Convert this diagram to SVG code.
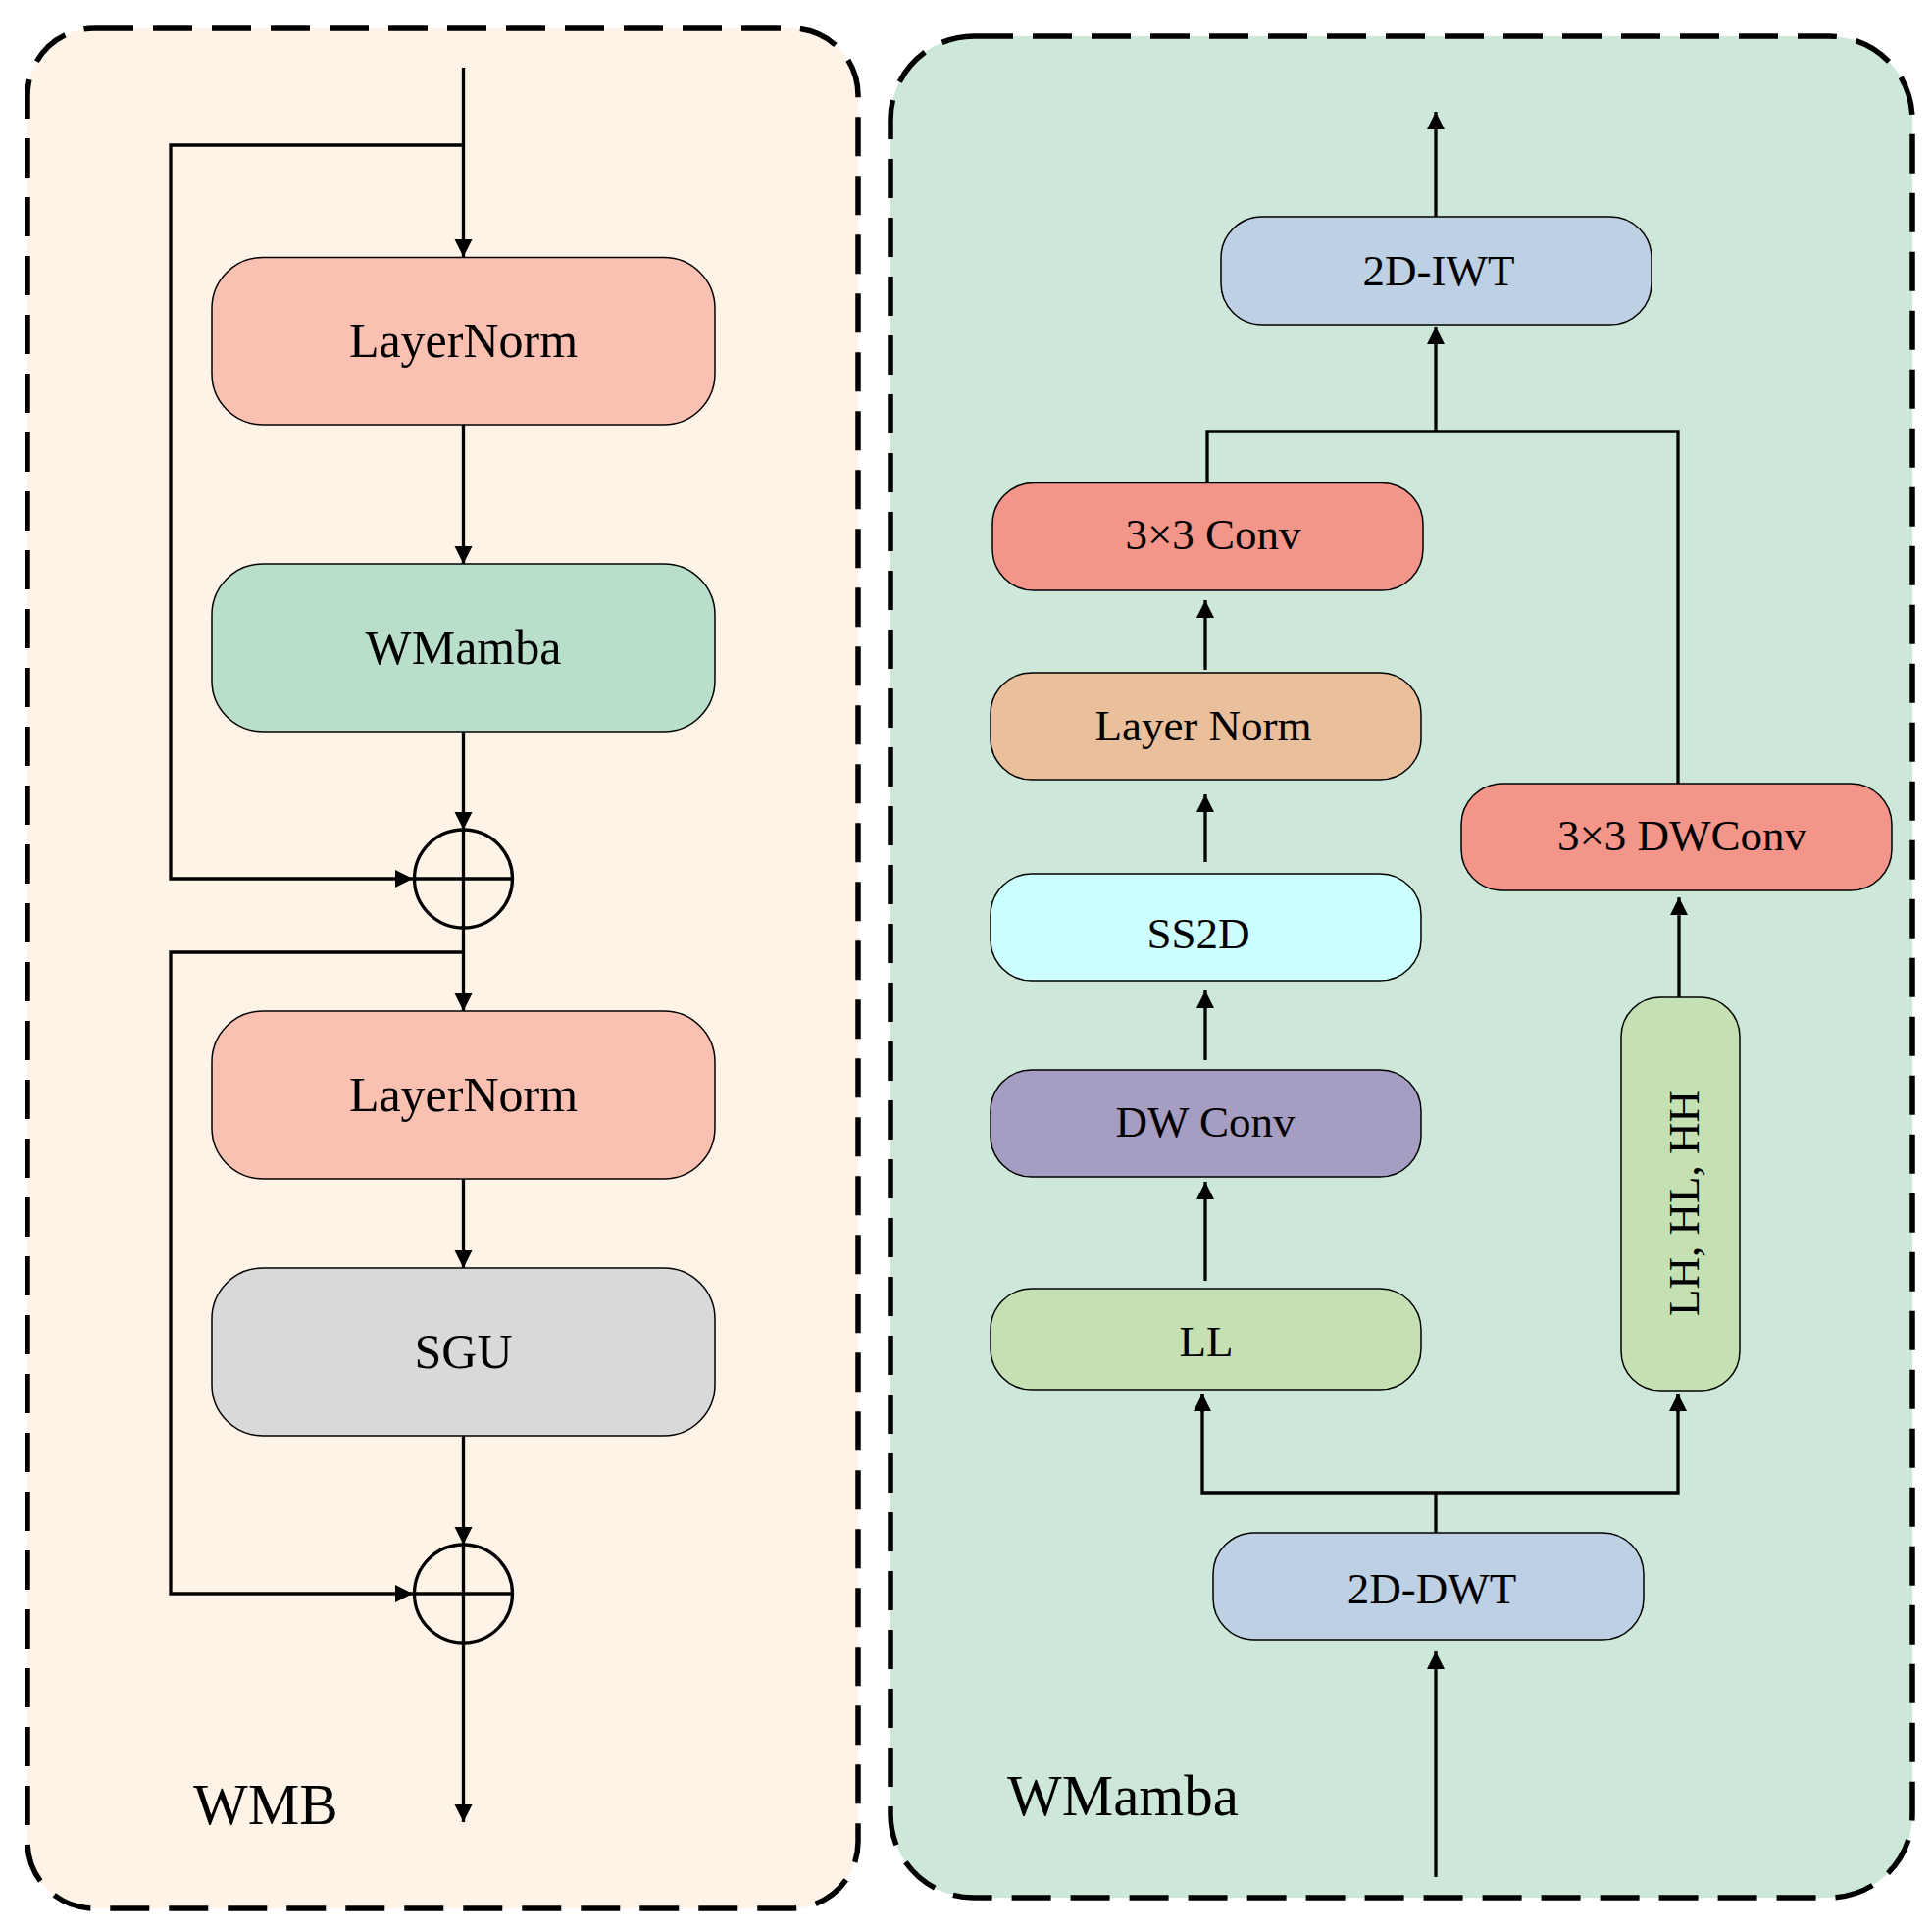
<svg xmlns="http://www.w3.org/2000/svg" width="1970" height="1967" viewBox="0 0 1970 1967">
<defs>
<style>
.panel{stroke:#000;stroke-width:5.5;stroke-dasharray:40 20}
.box{stroke:#000;stroke-width:1.5}
.ln{fill:none;stroke:#000;stroke-width:3.3}
.t50{font-family:"Liberation Serif","Times New Roman",serif;font-size:50px;fill:#000;text-anchor:middle}
.t45{font-family:"Liberation Serif","Times New Roman",serif;font-size:45px;fill:#000;text-anchor:middle}
.lbl{font-family:"Liberation Serif","Times New Roman",serif;font-size:59px;fill:#000}
</style>
<marker id="ah" markerUnits="userSpaceOnUse" markerWidth="20" markerHeight="20" viewBox="0 0 20 20" refX="18" refY="10" orient="auto">
<path d="M0,1 L18,10 L0,19 Z" fill="#000"/>
</marker>
</defs>

<g id="panel-wmb">
<rect class="panel" x="28" y="29" width="847" height="1917" rx="68" ry="68" fill="#FEF3E7"/>
<text class="lbl" x="197" y="1860">WMB</text>
</g>
<g id="panel-wmamba">
<rect class="panel" x="908" y="37" width="1042" height="1898" rx="85" ry="85" fill="#CDE7D9"/>
<text class="lbl" x="1027" y="1851">WMamba</text>
</g>

<g id="connectors">
<!-- left panel -->
<line class="ln" x1="472.5" y1="69" x2="472.5" y2="262" marker-end="url(#ah)"/>
<polyline class="ln" points="472.5,148 174,148 174,896 421,896" marker-end="url(#ah)"/>
<line class="ln" x1="472.5" y1="433" x2="472.5" y2="575" marker-end="url(#ah)"/>
<line class="ln" x1="472.5" y1="746" x2="472.5" y2="846" marker-end="url(#ah)"/>
<line class="ln" x1="472.5" y1="946" x2="472.5" y2="1031" marker-end="url(#ah)"/>
<polyline class="ln" points="472.5,971 174,971 174,1625 421,1625" marker-end="url(#ah)"/>
<line class="ln" x1="472.5" y1="1202" x2="472.5" y2="1293" marker-end="url(#ah)"/>
<line class="ln" x1="472.5" y1="1464" x2="472.5" y2="1575" marker-end="url(#ah)"/>
<line class="ln" x1="472.5" y1="1675" x2="472.5" y2="1858" marker-end="url(#ah)"/>
<!-- right panel -->
<line class="ln" x1="1464" y1="221" x2="1464" y2="114" marker-end="url(#ah)"/>
<line class="ln" x1="1464" y1="440" x2="1464" y2="333" marker-end="url(#ah)"/>
<polyline class="ln" points="1231,492 1231,440 1711,440 1711,799"/>
<line class="ln" x1="1229" y1="683" x2="1229" y2="612" marker-end="url(#ah)"/>
<line class="ln" x1="1229" y1="879" x2="1229" y2="810" marker-end="url(#ah)"/>
<line class="ln" x1="1229" y1="1081" x2="1229" y2="1010" marker-end="url(#ah)"/>
<line class="ln" x1="1229" y1="1306" x2="1229" y2="1205" marker-end="url(#ah)"/>
<line class="ln" x1="1712" y1="1017" x2="1712" y2="915" marker-end="url(#ah)"/>
<line class="ln" x1="1464" y1="1563" x2="1464" y2="1522"/>
<polyline class="ln" points="1226,1421 1226,1522 1711,1522 1711,1421"/>
<line class="ln" x1="1226" y1="1440" x2="1226" y2="1421" marker-end="url(#ah)"/>
<line class="ln" x1="1711" y1="1440" x2="1711" y2="1421" marker-end="url(#ah)"/>
<line class="ln" x1="1464" y1="1914" x2="1464" y2="1684" marker-end="url(#ah)"/>
</g>

<g id="node-layernorm1">
<rect class="box" x="216" y="262.5" width="513" height="170.5" rx="52" ry="52" fill="#FAC1B2"/>
<text class="t50" x="472.5" y="364">LayerNorm</text>
</g>
<g id="node-wmamba">
<rect class="box" x="216" y="575" width="513" height="171" rx="52" ry="52" fill="#B9DFCB"/>
<text class="t50" x="472.5" y="677">WMamba</text>
</g>
<g id="node-add1">
<circle cx="472.5" cy="896" r="50" fill="none" stroke="#000" stroke-width="3.3"/>
<line class="ln" x1="472.5" y1="846" x2="472.5" y2="946"/>
<line class="ln" x1="422.5" y1="896" x2="522.5" y2="896"/>
</g>
<g id="node-layernorm2">
<rect class="box" x="216" y="1031" width="513" height="171" rx="52" ry="52" fill="#FAC1B2"/>
<text class="t50" x="472.5" y="1133">LayerNorm</text>
</g>
<g id="node-sgu">
<rect class="box" x="216" y="1293" width="513" height="171" rx="52" ry="52" fill="#D9D9D9"/>
<text class="t50" x="472.5" y="1395">SGU</text>
</g>
<g id="node-add2">
<circle cx="472.5" cy="1625" r="50" fill="none" stroke="#000" stroke-width="3.3"/>
<line class="ln" x1="472.5" y1="1575" x2="472.5" y2="1675"/>
<line class="ln" x1="422.5" y1="1625" x2="522.5" y2="1625"/>
</g>

<g id="node-iwt">
<rect class="box" x="1245" y="221" width="439" height="110" rx="42" ry="42" fill="#BDD0E4"/>
<text class="t45" x="1467" y="291">2D-IWT</text>
</g>
<g id="node-conv">
<rect class="box" x="1012" y="492.5" width="439" height="109.5" rx="42" ry="42" fill="#F4958A"/>
<text class="t45" x="1237" y="560">3×3 Conv</text>
</g>
<g id="node-layernorm-r">
<rect class="box" x="1010" y="686" width="439" height="109" rx="42" ry="42" fill="#E9BF9C"/>
<text class="t45" x="1227" y="755">Layer Norm</text>
</g>
<g id="node-ss2d">
<rect class="box" x="1010" y="891" width="439" height="109" rx="42" ry="42" fill="#CCFFFF"/>
<text class="t45" x="1222" y="967">SS2D</text>
</g>
<g id="node-dwconv">
<rect class="box" x="1010" y="1091" width="439" height="109" rx="42" ry="42" fill="#A69DC2"/>
<text class="t45" x="1229" y="1159">DW Conv</text>
</g>
<g id="node-ll">
<rect class="box" x="1010" y="1314" width="439" height="103" rx="42" ry="42" fill="#C5E0B3"/>
<text class="t45" x="1230" y="1383">LL</text>
</g>
<g id="node-dwt">
<rect class="box" x="1237" y="1563" width="439" height="109" rx="42" ry="42" fill="#BDD0E4"/>
<text class="t45" x="1460" y="1635">2D-DWT</text>
</g>
<g id="node-dwconv33">
<rect class="box" x="1490" y="799" width="439" height="109" rx="42" ry="42" fill="#F4958A"/>
<text class="t45" x="1715" y="867">3×3 DWConv</text>
</g>
<g id="node-high">
<rect class="box" x="1653" y="1017" width="121" height="401" rx="40" ry="40" fill="#C5E0B3"/>
<text class="t45" transform="translate(1732,1227) rotate(-90)">LH, HL, HH</text>
</g>
</svg>
